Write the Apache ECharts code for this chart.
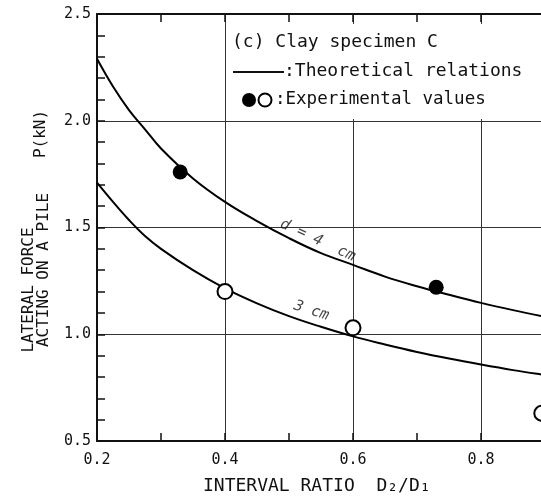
<!DOCTYPE html>
<html>
<head>
<meta charset="utf-8">
<script src="https://cdn.jsdelivr.net/npm/echarts@6/dist/echarts.min.js"></script>
<style>html,body{margin:0;padding:0;background:#fff}#c{width:541px;height:501px}</style>
</head>
<body>
<div id="c"></div>
<script>
// ---- data ----
const xValues = [0.2, 0.225, 0.25, 0.275, 0.3, 0.35, 0.4, 0.45, 0.5, 0.55, 0.6, 0.65, 0.7, 0.75, 0.8, 0.85, 0.9, 0.95, 1.0];
const curve4cm = [2.29, 2.16, 2.05, 1.96, 1.87, 1.73, 1.62, 1.53, 1.45, 1.38, 1.325, 1.27, 1.225, 1.185, 1.147, 1.113, 1.082, 1.053, 1.026];
const curve3cm = [1.71, 1.62, 1.535, 1.46, 1.40, 1.30, 1.215, 1.145, 1.085, 1.035, 0.99, 0.952, 0.917, 0.886, 0.858, 0.832, 0.809, 0.787, 0.767];
const filledX = [0.33, 0.73];
const filledY = [1.76, 1.22];
const openX = [0.40, 0.60, 0.895];
const openY = [1.20, 1.03, 0.63];
const xTickLabels = ['0.2', '0.4', '0.6', '0.8'];
const yTickLabels = ['0.5', '1.0', '1.5', '2.0', '2.5'];
const curveLabels = [
  { text: 'd = 4  cm', x: 0.545, y: 1.44, rotate: -25 },
  { text: '3 cm', x: 0.535, y: 1.11, rotate: -18 }
];

const FONT = '"DejaVu Sans Mono", "Liberation Mono", monospace';
const zip = (a, b) => a.map((v, i) => [v, b[i]]);

const chart = echarts.init(document.getElementById('c'), null, { renderer: 'canvas' });
const axisCommon = {
  type: 'value', min: 0.2, max: 1.0, interval: 0.2,
  axisLine: { show: true, lineStyle: { color: '#111', width: 2 } },
  axisTick: { show: true, inside: true, length: 8, lineStyle: { color: '#111', width: 1.5 } },
  minorTick: { show: true, splitNumber: 2, length: 8, lineStyle: { color: '#111', width: 1.5 } },
  splitLine: { show: false }
};
chart.setOption({
  backgroundColor: '#fff',
  animation: false,
  grid: { left: 97, top: 14, height: 427, width: 512, show: false, containLabel: false, outerBoundsMode: 'none' },
  xAxis: [
    Object.assign({}, axisCommon, {
      position: 'bottom',
      splitLine: { show: true, lineStyle: { color: '#333', width: 1 } },
      axisLabel: {
        color: '#111', fontFamily: FONT, fontSize: 15, margin: 12,
        formatter: v => { const s = v.toFixed(1); return xTickLabels.includes(s) ? s : ''; }
      }
    }),
    Object.assign({}, axisCommon, { position: 'top', axisLabel: { show: false } })
  ],
  yAxis: {
    type: 'value', min: 0.5, max: 2.5, interval: 0.5,
    axisLine: { show: true, lineStyle: { color: '#111', width: 2 } },
    axisTick: { show: true, inside: true, length: 8, lineStyle: { color: '#111', width: 1.5 } },
    minorTick: { show: true, splitNumber: 5, length: 8, lineStyle: { color: '#111', width: 1.5 } },
    splitLine: { show: true, lineStyle: { color: '#333', width: 1 } },
    axisLabel: {
      color: '#111', fontFamily: FONT, fontSize: 15, margin: 6,
      formatter: v => { const s = v.toFixed(1); return yTickLabels.includes(s) ? s : ''; }
    }
  },
  series: [
    { type: 'line', data: zip(xValues, curve4cm), smooth: 0.4, showSymbol: false,
      lineStyle: { color: '#000', width: 2 }, z: 3 },
    { type: 'line', data: zip(xValues, curve3cm), smooth: 0.4, showSymbol: false,
      lineStyle: { color: '#000', width: 2 }, z: 3 },
    { type: 'scatter', data: zip(filledX, filledY), symbol: 'circle', symbolSize: 15,
      itemStyle: { color: '#000', opacity: 1 }, z: 5 },
    { type: 'scatter', data: zip(openX, openY), symbol: 'circle', symbolSize: 15,
      itemStyle: { color: '#fff', borderColor: '#000', borderWidth: 2, opacity: 1 }, z: 5 },
    { type: 'scatter', symbolSize: 0, silent: true, z: 6,
      data: curveLabels.map(l => ({ value: [l.x, l.y],
        label: { show: true, position: 'inside', formatter: l.text, rotate: l.rotate,
          color: '#111', fontFamily: FONT, fontStyle: 'italic', fontSize: 15 } })) }
  ],
  graphic: [
    { type: 'rect', left: 232, top: 24, shape: { width: 320, height: 95 }, style: { fill: '#fff' }, z: 1 },
    { type: 'text', left: 232, top: 33, z: 10,
      style: { text: '(c) Clay specimen C', font: '18px ' + FONT, fill: '#111' } },
    { type: 'line', z: 10, shape: { x1: 233, y1: 72, x2: 284, y2: 72 }, style: { stroke: '#111', lineWidth: 2 } },
    { type: 'text', left: 284, top: 62, z: 10,
      style: { text: ':Theoretical relations', font: '18px ' + FONT, fill: '#111' } },
    { type: 'circle', z: 10, shape: { cx: 249, cy: 100, r: 7 }, style: { fill: '#000' } },
    { type: 'circle', z: 10, shape: { cx: 265, cy: 100, r: 6.5 }, style: { fill: '#fff', stroke: '#000', lineWidth: 2 } },
    { type: 'text', left: 275, top: 90, z: 10,
      style: { text: ':Experimental values', font: '17.5px ' + FONT, fill: '#111' } },
    { type: 'text', left: 203, top: 477, z: 10,
      style: { text: 'INTERVAL RATIO  D₂/D₁', font: '18px ' + FONT, fill: '#111' } },
    { type: 'text', x: 29, y: 290, rotation: Math.PI / 2, z: 10,
      style: { text: 'LATERAL FORCE', font: '16px ' + FONT, fill: '#111', align: 'center', verticalAlign: 'middle' } },
    { type: 'text', x: 44, y: 270, rotation: Math.PI / 2, z: 10,
      style: { text: 'ACTING ON A PILE', font: '16px ' + FONT, fill: '#111', align: 'center', verticalAlign: 'middle' } },
    { type: 'text', x: 41, y: 134, rotation: Math.PI / 2, z: 10,
      style: { text: 'P(kN)', font: '16px ' + FONT, fill: '#111', align: 'center', verticalAlign: 'middle' } }
  ]
});
</script>
</body>
</html>
